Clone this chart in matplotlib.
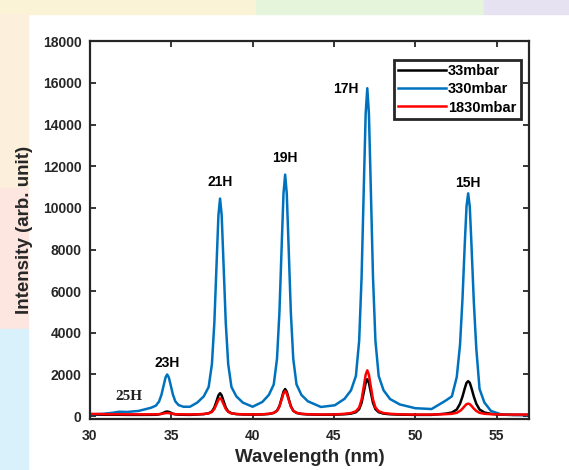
import matplotlib
matplotlib.use('Agg')
from matplotlib import pyplot as plt
from matplotlib.patches import Rectangle

# wavelength grid (nm), denser around each harmonic
wavelength = [30.0, 30.8, 31.4, 31.8, 32.3, 33.0,
              33.75, 34.05, 34.25, 34.4, 34.55, 34.65, 34.75, 34.85, 34.95, 35.1, 35.25, 35.45, 35.75, 36.15,
              36.6, 37.0, 37.3, 37.5, 37.65, 37.8, 37.9, 38.0, 38.1, 38.2, 38.35, 38.5, 38.7, 39.0, 39.4, 40.0,
              40.6, 41.0, 41.3, 41.5, 41.65, 41.8, 41.9, 42.0, 42.1, 42.2, 42.35, 42.5, 42.7, 43.0, 43.4, 44.2,
              45.05, 45.65, 46.05, 46.35, 46.55, 46.7, 46.85, 46.95, 47.05, 47.15, 47.25, 47.4, 47.55, 47.75,
              48.05, 48.45, 49.05, 50.0, 51.0,
              51.85, 52.25, 52.55, 52.75, 52.9, 53.05, 53.15, 53.25, 53.35, 53.45, 53.6, 53.75, 53.95, 54.25,
              54.65, 55.25, 56.0, 57.0]

int_33 = [70, 65, 65, 65, 60, 60,
          62, 65, 85, 115, 170, 205, 220, 205, 170, 115, 85, 70, 65, 60,
          78, 96, 138, 226, 414, 757, 996, 1100, 996, 757, 414, 226, 138, 96, 78, 70,
          80, 103, 153, 258, 482, 891, 1176, 1300, 1176, 891, 482, 258, 153, 103, 80, 65,
          70, 89, 120, 188, 334, 641, 1206, 1599, 1770, 1599, 1206, 641, 334, 188,
          120, 89, 70, 60, 60,
          117, 173, 319, 595, 935, 1356, 1599, 1680, 1599, 1356, 935, 595, 319, 173,
          110, 70, 55, 55]

int_330 = [80, 110, 160, 210, 200, 250,
           400, 500, 700, 1030, 1530, 1860, 2000, 1860, 1540, 1040, 710, 530, 450, 450,
           650, 950, 1400, 2500, 4500, 7600, 9650, 10450, 9650, 7600, 4500, 2500, 1400, 950, 650, 450,
           680, 1020, 1520, 2750, 4990, 8460, 10700, 11600, 10700, 8460, 4990, 2750, 1520, 1020, 710, 440,
           520, 830, 1240, 1930, 3620, 6690, 11450, 14520, 15750, 14520, 11450, 6690, 3620, 1930,
           1240, 820, 560, 380, 340,
           735, 950, 1880, 3430, 5610, 8420, 10080, 10700, 10050, 8300, 5450, 3250, 1300, 650,
           250, 90, 60, 50]

int_1830 = [110, 95, 90, 90, 85, 85,
            85, 88, 95, 105, 130, 145, 150, 145, 130, 105, 95, 88, 85, 80,
            88, 102, 134, 201, 342, 601, 782, 860, 782, 601, 342, 201, 134, 102, 88, 80,
            88, 114, 159, 255, 458, 829, 1088, 1200, 1088, 829, 458, 255, 159, 114, 90, 78,
            82, 111, 149, 234, 415, 798, 1499, 1988, 2200, 1988, 1499, 798, 415, 234,
            149, 111, 85, 75, 75,
            93, 112, 159, 248, 359, 495, 574, 600, 574, 495, 359, 248, 159, 112,
            93, 80, 75, 75]

# harmonic labels: text, wavelength, intensity
harm_names = ['25H', '23H', '21H', '19H', '17H', '15H']
harm_x = [32.4, 34.75, 38.0, 42.0, 45.7, 53.2]
harm_y = [960, 2540, 11230, 12380, 15700, 11180]


def main():
    fig = plt.figure(figsize=(5.69, 4.70), dpi=100)

    # faint slide background around the chart
    fig.patches.append(Rectangle((0, 0.97), 0.45, 0.03, transform=fig.transFigure, color='#fbf3d6', zorder=0))
    fig.patches.append(Rectangle((0.45, 0.97), 0.4, 0.03, transform=fig.transFigure, color='#e4f5dc', zorder=0))
    fig.patches.append(Rectangle((0.85, 0.97), 0.15, 0.03, transform=fig.transFigure, color='#e6e2f2', zorder=0))
    fig.patches.append(Rectangle((0, 0.6), 0.05, 0.37, transform=fig.transFigure, color='#fcefdc', zorder=0))
    fig.patches.append(Rectangle((0, 0.3), 0.05, 0.3, transform=fig.transFigure, color='#fde6e0', zorder=0))
    fig.patches.append(Rectangle((0, 0), 0.05, 0.3, transform=fig.transFigure, color='#d9f1fb', zorder=0))

    ax = fig.add_axes([0.158, 0.108, 0.772, 0.804])
    ax.set_zorder(2)
    ax.plot(wavelength, int_33, color='black', linewidth=1.8, label='33mbar')
    ax.plot(wavelength, int_330, color='#0072BD', linewidth=1.8, label='330mbar')
    ax.plot(wavelength, int_1830, color='#FF0000', linewidth=1.8, label='1830mbar')

    for name, x, y in zip(harm_names, harm_x, harm_y):
        if name == '25H':
            ax.text(x, y, name, ha='center', va='center', fontsize=11, fontweight='bold',
                    family='Liberation Serif', color='#222222')
        else:
            ax.text(x, y, name, ha='center', va='center', fontsize=10, fontweight='bold',
                    family='Liberation Sans', color='black')

    ax.set_xlim(30, 57)
    ax.set_ylim(-150, 18000)
    ax.set_xticks([30, 35, 40, 45, 50, 55])
    ax.set_yticks(range(0, 18001, 2000))
    ax.tick_params(direction='in', length=4, width=1.3, top=True, right=True,
                   labelsize=10, colors='#262626')
    ax.tick_params(axis='x', pad=7)
    ax.tick_params(axis='y', pad=6)
    for lab in ax.get_xticklabels() + ax.get_yticklabels():
        lab.set_fontweight('bold')
        lab.set_family('Liberation Sans')
    for sp in ax.spines.values():
        sp.set_linewidth(1.6)
        sp.set_color('#262626')

    ax.set_xlabel('Wavelength (nm)', fontsize=13.5, fontweight='bold', family='Liberation Sans',
                  color='#262626', labelpad=4)
    ax.set_ylabel('Intensity (arb. unit)', fontsize=13.5, fontweight='bold', family='Liberation Sans',
                  color='#262626', labelpad=7)

    leg = ax.legend(loc='upper right', bbox_to_anchor=(0.997, 0.970), fancybox=False,
                    handlelength=3.3, handletextpad=0.1, borderpad=0.3, labelspacing=0.28,
                    prop={'family': 'Liberation Sans', 'weight': 'bold', 'size': 10.5})
    leg.get_frame().set_edgecolor('#262626')
    leg.get_frame().set_linewidth(2)
    leg.get_frame().set_alpha(1)

    fig.savefig('out.png', dpi=100)


if __name__ == '__main__':
    main()
